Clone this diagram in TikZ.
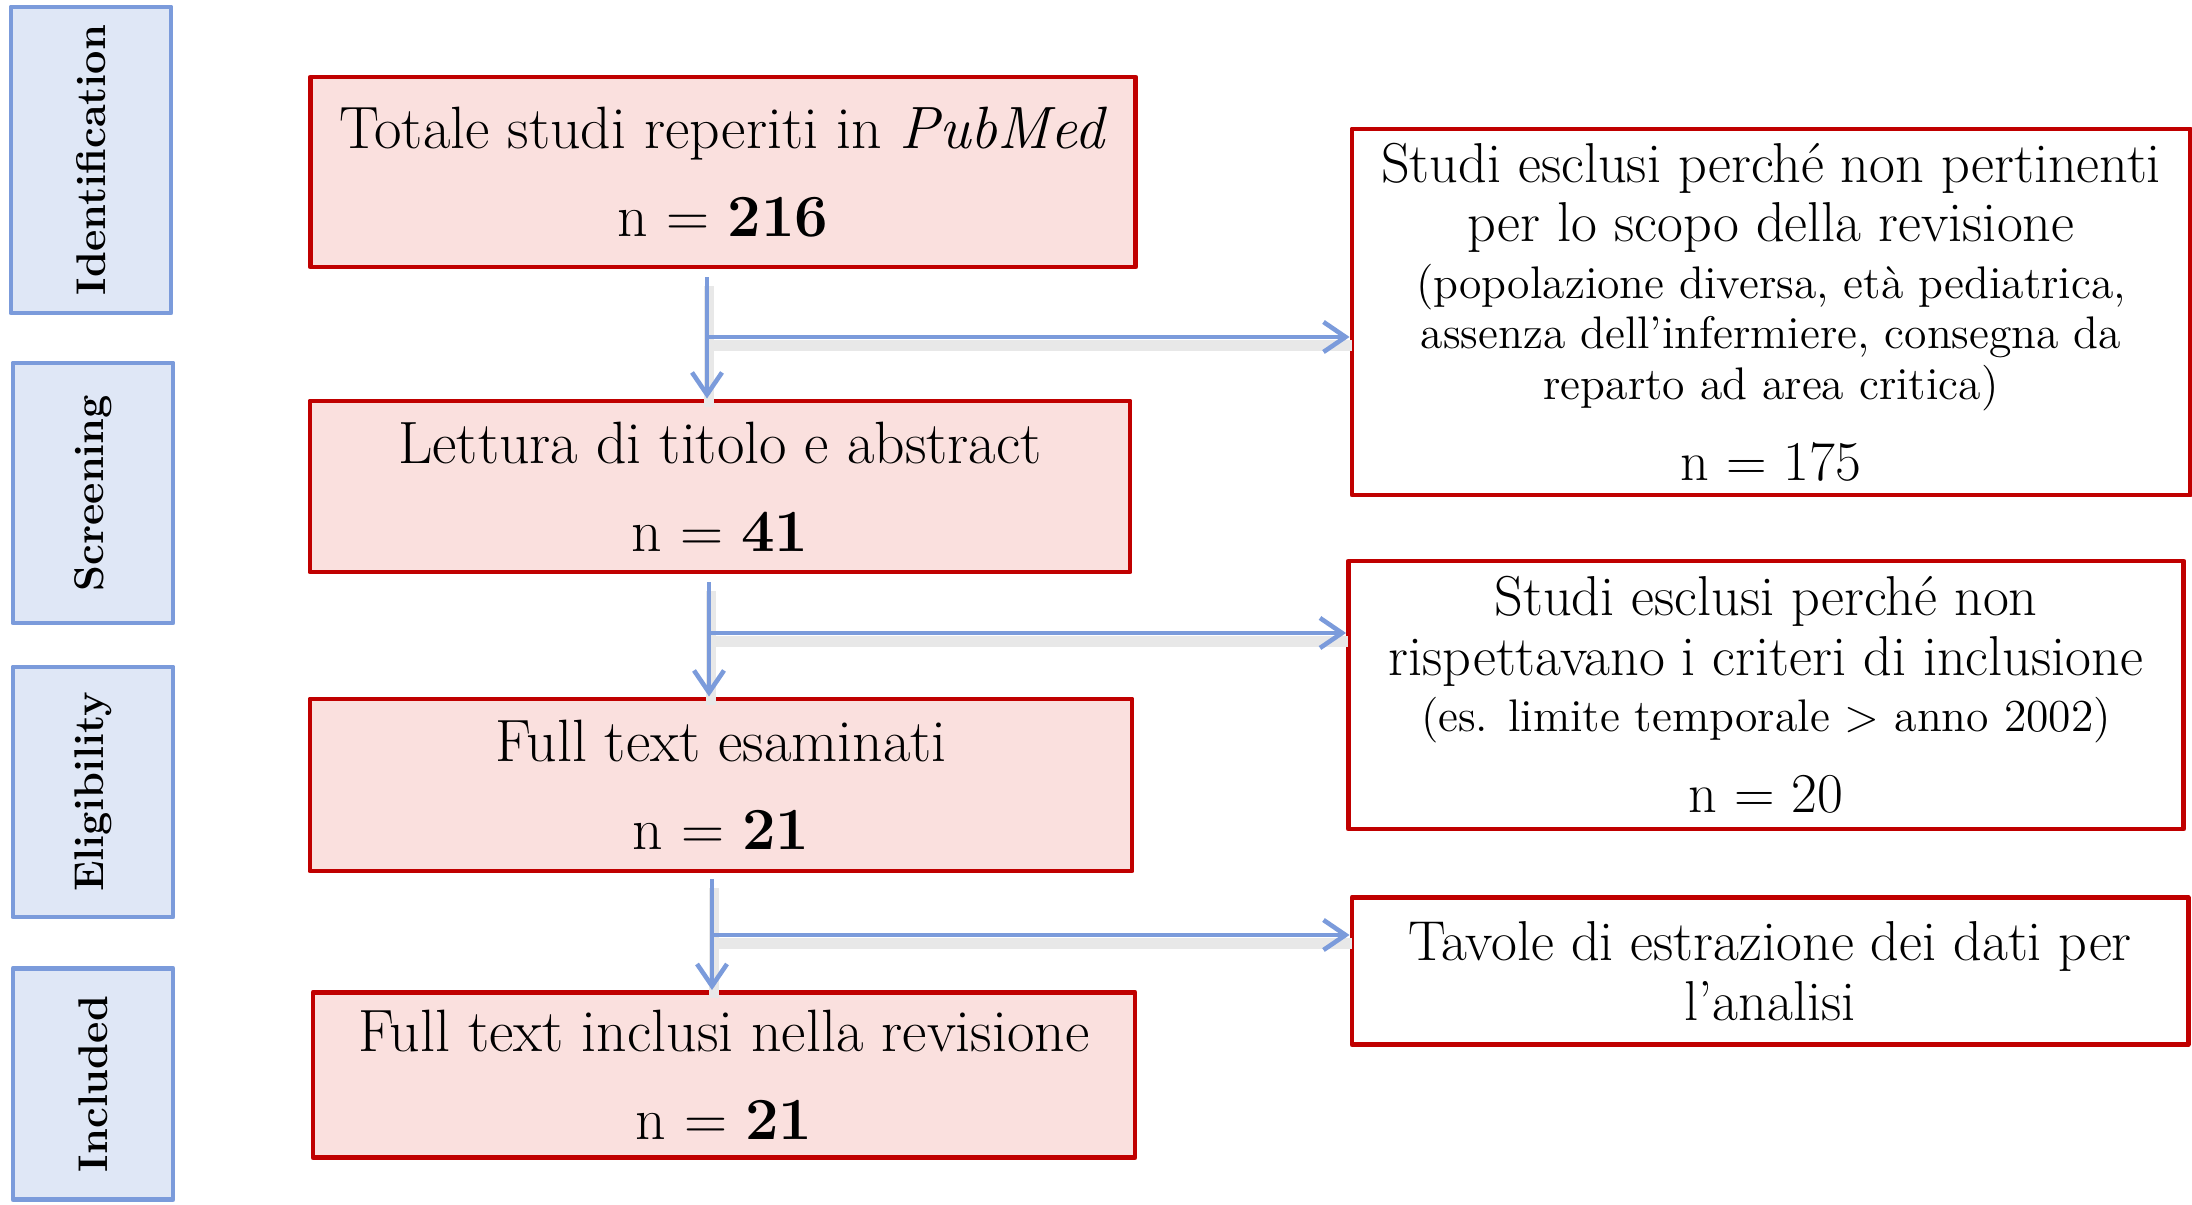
\documentclass[tikz,border=0pt]{standalone}
\usepackage{xcolor}
\usetikzlibrary{arrows.meta,calc,positioning}

\definecolor{boxred}{RGB}{192,0,0}
\definecolor{boxpink}{RGB}{250,224,222}
\definecolor{phaseblue}{RGB}{123,155,219}
\definecolor{phasefill}{RGB}{223,231,246}

\begin{document}
\begin{tikzpicture}[>={Straight Barb[length=2.2mm,width=3mm]},line join=round,
  phasebox/.style={draw=phaseblue,fill=phasefill,line width=1.4pt,rotate=90,
    minimum height=1.6cm,font=\fontsize{11.8}{13}\selectfont\bfseries},
  flowbox/.style={draw=boxred,fill=boxpink,line width=1.4pt,align=center,
    minimum width=8.22cm,font=\fontsize{17}{20}\selectfont},
  exclbox/.style={draw=boxred,fill=white,line width=1.4pt,align=center,
    minimum width=8.36cm,font=\fontsize{16}{17}\selectfont},
  flow/.style={->,draw=phaseblue,line width=1.3pt,
    preaction={-,draw=black!9,line width=3pt,transform canvas={shift={(0.6pt,-2.4pt)}}}}]

  \useasboundingbox (0,0) rectangle (21.92,12.04);

  %% ---------------------------------------------------------------
  %% phases (left column)
  %% ---------------------------------------------------------------
  \node[phasebox,minimum width=3.06cm] (ident) at (0.91,10.44) {Identification};
  \node[phasebox,minimum width=2.60cm] (screen) at (0.93,7.11) {Screening};
  \node[phasebox,minimum width=2.50cm] (elig) at (0.93,4.12) {Eligibility};
  \node[phasebox,minimum width=2.31cm] (incl) at (0.93,1.20) {Included};

  %% ---------------------------------------------------------------
  %% main flow (middle column)
  %% ---------------------------------------------------------------
  \node[flowbox,minimum width=8.25cm,minimum height=1.90cm] (total) at (7.23,10.32)
    {Totale studi reperiti in \textit{PubMed}\\[5pt] n = \textbf{216}};
  \node[flowbox,minimum width=8.20cm,minimum height=1.71cm] (read) at (7.20,7.175)
    {Lettura di titolo e abstract\\[5pt] n = \textbf{41}};
  \node[flowbox,minimum height=1.72cm] (full) at (7.21,4.19)
    {Full text esaminati\\[5pt] n = \textbf{21}};
  \node[flowbox,minimum height=1.65cm] (final) at (7.24,1.29)
    {Full text inclusi nella revisione\\[5pt] n = \textbf{21}};

  %% ---------------------------------------------------------------
  %% excluded / output (right column)
  %% ---------------------------------------------------------------
  \node[exclbox,minimum width=8.38cm,minimum height=3.66cm] (excl1) at (17.71,8.92)
    {Studi esclusi perché non pertinenti\\
     per lo scopo della revisione\\[-1pt]
     {\fontsize{13}{14}\selectfont (popolazione diversa, età pediatrica,}\\[-2.6pt]
     {\fontsize{13}{14}\selectfont assenza dell’infermiere, consegna da}\\[-2.6pt]
     {\fontsize{13}{14}\selectfont reparto ad area critica)}\\[6pt]
     n = 175};
  \node[exclbox,minimum width=8.35cm,minimum height=2.68cm] (excl2) at (17.66,5.09)
    {Studi esclusi perché non\\
     rispettavano i criteri di inclusione\\[-1pt]
     {\fontsize{13}{14}\selectfont (es. limite temporale > anno 2002)}\\[6pt]
     n = 20};
  \node[exclbox,minimum height=1.47cm] (tables) at (17.70,2.33)
    {Tavole di estrazione dei dati per\\ l’analisi};

  %% ---------------------------------------------------------------
  %% connectors
  %% ---------------------------------------------------------------
  \coordinate (s1) at ($(total.south)+(-0.16,-0.08)$);
  \coordinate (j1) at (7.07,8.67);
  \coordinate (s2) at ($(read.south)+(-0.11,-0.08)$);
  \coordinate (j2) at (7.09,5.71);
  \coordinate (s3) at ($(full.south)+(-0.09,-0.06)$);
  \coordinate (j3) at (7.12,2.69);

  \draw[flow] (s1) -- (s1 |- read.north);
  \draw[flow] (j1) -- (j1 -| excl1.west);
  \draw[flow] (s2) -- (s2 |- full.north);
  \draw[flow] (j2) -- (j2 -| excl2.west);
  \draw[flow] (s3) -- (s3 |- final.north);
  \draw[flow] (j3) -- (j3 -| tables.west);

\end{tikzpicture}
\end{document}
